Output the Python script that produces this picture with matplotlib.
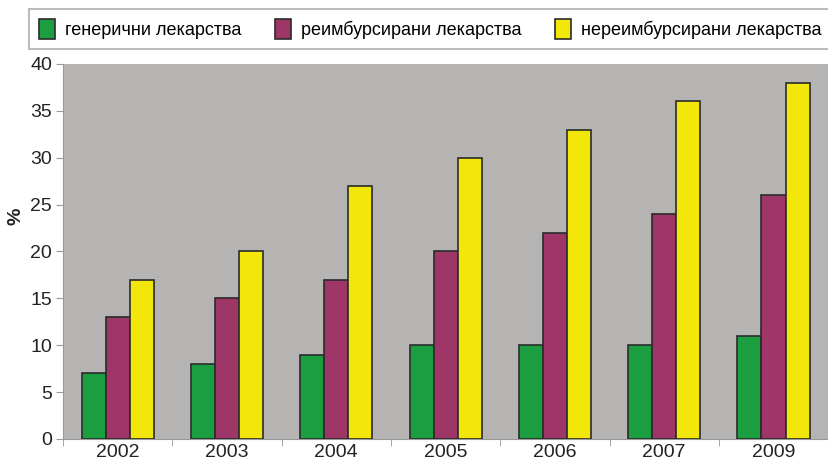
import matplotlib
matplotlib.use('Agg')
from matplotlib import pyplot as plt
import numpy as np

plt.rcParams['font.family'] = ['Liberation Sans', 'DejaVu Sans']

years = ['2002', '2003', '2004', '2005', '2006', '2007', '2009']
generic = [7, 8, 9, 10, 10, 10, 11]
reimbursed = [13, 15, 17, 20, 22, 24, 26]
non_reimbursed = [17, 20, 27, 30, 33, 36, 38]
series_names = ['генерични лекарства', 'реимбурсирани лекарства', 'нереимбурсирани лекарства']
colors = ['#1a9e40', '#9e3667', '#f3e60a']

fig = plt.figure(figsize=(8.29, 4.63), dpi=100)
ax = fig.add_axes([0.076, 0.052, 0.923, 0.810])
ax.set_facecolor('#b5b4b3')

x = np.arange(len(years))
w = 0.22
for i, (vals, c, name) in enumerate(zip([generic, reimbursed, non_reimbursed], colors, series_names)):
    ax.bar(x + (i - 1) * w, vals, w, color=c, edgecolor='#2b2b2b', linewidth=1.2, label=name, zorder=3)

ax.set_xlim(-0.5, len(years) - 0.5)
ax.set_ylim(0, 40)
ax.set_yticks(range(0, 41, 5))
ax.set_xticks(x)
ax.set_xticklabels(years)
ax.set_xticks(np.arange(-0.5, len(years), 1), minor=True)
ax.tick_params(axis='x', which='major', length=0, labelsize=14, pad=4, colors='#222222')
ax.tick_params(axis='x', which='minor', length=5, color='#999999')
ax.tick_params(axis='y', length=5, labelsize=14, colors='#222222', pad=3)
ax.tick_params(axis='y', color='#999999')
for s in ['top', 'right']:
    ax.spines[s].set_visible(False)
ax.spines['left'].set_color('#999999')
ax.spines['bottom'].set_color('#999999')
fig.text(0.019, 0.533, '%', rotation=90, fontsize=14, fontweight='bold',
         ha='center', va='center', color='#222222')

leg = fig.legend(loc='center', bbox_to_anchor=(0.033, 0.892, 0.972, 0.091), ncol=3,
                 frameon=True, fancybox=False, fontsize=13, handlelength=0.85,
                 handleheight=1.3, handletextpad=0.55, columnspacing=1.9,
                 borderaxespad=0, borderpad=0.55)
leg.get_frame().set_edgecolor('#aaaaaa')
leg.get_frame().set_linewidth(1.5)

fig.savefig('out.png', dpi=100)
